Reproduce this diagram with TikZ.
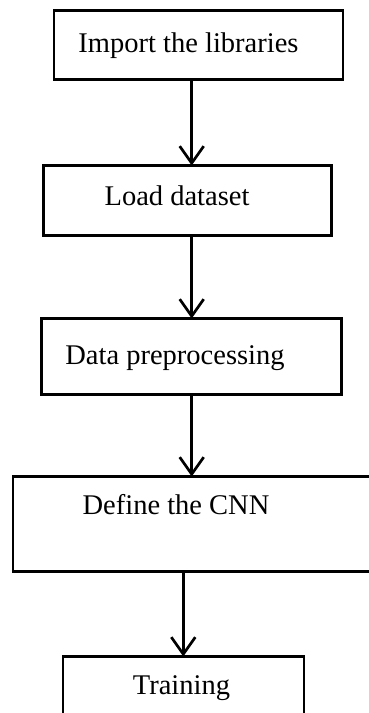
\documentclass[tikz,border=0pt]{standalone}
\usepackage{fontspec}
\setmainfont{Liberation Serif}
\usepackage{tikz}
\usetikzlibrary{arrows.meta,positioning}
\tikzstyle{stage} = [rectangle, draw=black, line width=2.8pt, fill=none, outer sep=0pt, inner sep=0pt]
\tikzstyle{caption} = [draw=none, fill=none, inner sep=0pt, text height=20pt, text depth=6pt, font=\fontsize{28.5pt}{34pt}\selectfont]
\tikzstyle{flow} = [draw, line width=2.7pt, -{Straight Barb[length=17pt,width=24pt]}]

\begin{document}
\begin{tikzpicture}[x=1pt, y=1pt]
\clip (0,0) rectangle (369,-713);

% stages =============================
\node[stage, minimum width=289pt, minimum height=69pt] (imp) at (198.5,-45) {};
\node[stage, minimum width=288pt, minimum height=70pt, below=86pt of imp, xshift=-11pt] (load) {};
\node[stage, minimum width=300pt, minimum height=76pt, below=83pt of load, xshift=4.2pt] (prep) {};
\node[stage, minimum width=362pt, minimum height=95pt, below=82pt of prep, xshift=2.3pt] (cnn) {};
\node[stage, minimum width=241pt, minimum height=70pt, below=85pt of cnn, xshift=-10.5pt] (train) {};

% texts
\node[caption] (imptxt) at ([xshift=-10pt]imp.center) {Import the libraries};
\node[caption] (loadtxt) at ([xshift=-10.5pt, yshift=2pt]load.center) {Load dataset};
\node[caption] (preptxt) at ([xshift=-16.7pt, yshift=-1pt]prep.center) {Data preprocessing};
\node[caption] (cnntxt) at ([xshift=-18pt, yshift=16.5pt]cnn.center) {Define the CNN};
\node[caption] (traintxt) at ([xshift=-2pt, yshift=4pt]train.center) {Training};

% edges between stages
\path[flow] ([xshift=-6.8pt]imp.south) -- ([xshift=-6.8pt]imp.south |- load.north);
\path[flow] ([xshift=4.2pt]load.south) -- ([xshift=4.2pt]load.south |- prep.north);
\path[flow] (prep.south) -- (prep.south |- cnn.north);
\path[flow] ([xshift=-10.7pt]cnn.south) -- ([xshift=-10.7pt]cnn.south |- train.north);

\end{tikzpicture}
\end{document}
